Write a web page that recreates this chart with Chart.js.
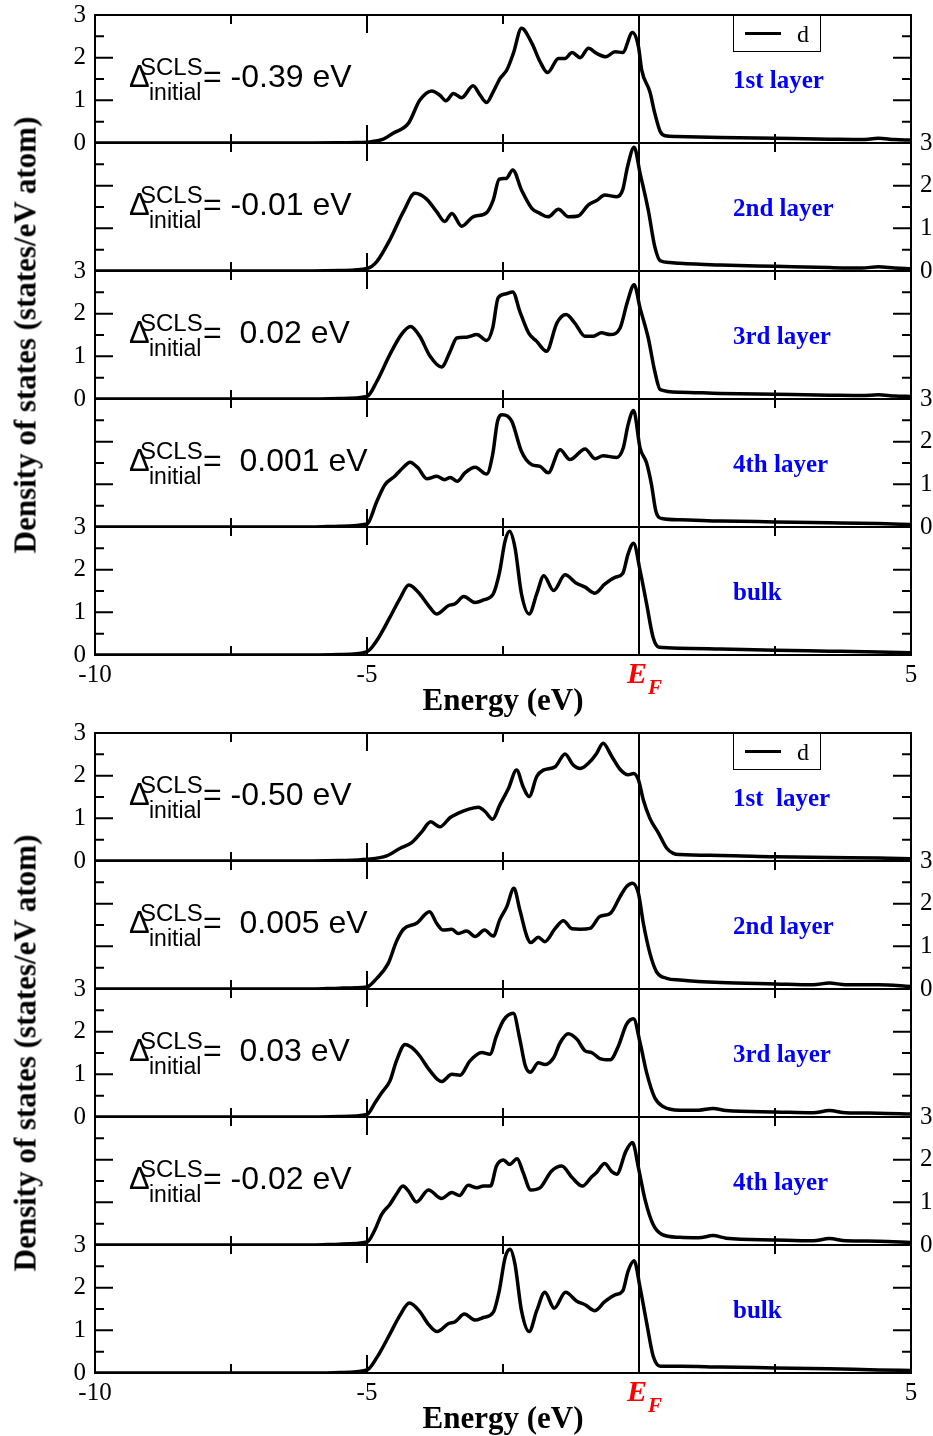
<!DOCTYPE html>
<html><head><meta charset="utf-8">
<script src="https://cdn.jsdelivr.net/npm/chart.js@4.4.1/dist/chart.umd.min.js"></script>
<style>
html,body{margin:0;padding:0;background:#fff;}
#root{position:relative;width:933px;height:1436px;overflow:hidden;background:#fff;}
canvas{position:absolute;left:0;}
.t{position:absolute;white-space:pre;line-height:1;margin:0;}
</style></head><body><div id="root"></div>
<script>
// ---------------- data (energy in eV, DOS in states/eV atom) ----------------
const xTicks = [-10, -7.5, -5, -2.5, 0, 2.5, 5];
const xLabels = {'-10': '-10', '-5': '-5', '5': '5'};
const yTicks = [0, 1, 2, 3];

// top panel
const eT1 = [-10,-7,-6,-5.5,-5.2,-5.0,-4.7,-4.52,-4.24,-4.03,-3.81,-3.66,-3.55,-3.41,-3.26,-3.05,-2.92,-2.80,-2.68,-2.55,-2.43,-2.31,-2.16,-1.97,-1.82,-1.68,-1.48,-1.36,-1.23,-1.08,-0.93,-0.78,-0.61,-0.44,-0.30,-0.12,-0.01,0.05,0.20,0.29,0.39,0.48,0.69,1.5,2.5,3.5,4.1,4.4,4.7,5];
const dT1 = [0,0,0,0.005,0.01,0.02,0.09,0.23,0.46,1.0,1.22,1.12,0.99,1.16,1.06,1.34,1.12,0.95,1.2,1.52,1.71,2.1,2.69,2.34,1.91,1.65,1.98,1.98,2.12,2.0,2.22,2.1,2.02,2.14,2.12,2.59,2.26,1.71,1.2,0.7,0.27,0.17,0.15,0.13,0.11,0.09,0.08,0.11,0.08,0.07];

const eT2 = [-10,-7,-6,-5.5,-5.0,-4.82,-4.58,-4.33,-4.12,-3.90,-3.72,-3.57,-3.44,-3.26,-3.05,-2.80,-2.68,-2.57,-2.44,-2.32,-2.16,-1.97,-1.82,-1.67,-1.48,-1.30,-1.12,-0.93,-0.78,-0.63,-0.41,-0.30,-0.21,-0.09,0.02,0.17,0.29,0.39,0.57,0.75,1.5,2.5,3.5,4.1,4.4,4.7,5];
const dT2 = [0,0,0,0.01,0.06,0.22,0.73,1.39,1.82,1.68,1.39,1.16,1.35,1.05,1.27,1.37,1.66,2.15,2.17,2.37,1.9,1.47,1.35,1.27,1.45,1.27,1.29,1.55,1.65,1.78,1.74,1.9,2.45,2.9,2.29,1.43,0.57,0.24,0.2,0.18,0.14,0.11,0.08,0.07,0.1,0.07,0.05];

const eT3 = [-10,-7,-6,-5.5,-5.0,-4.82,-4.58,-4.37,-4.20,-4.03,-3.84,-3.63,-3.47,-3.35,-3.17,-2.98,-2.80,-2.69,-2.59,-2.46,-2.32,-2.19,-2.03,-1.88,-1.70,-1.51,-1.34,-1.18,-0.99,-0.84,-0.69,-0.53,-0.35,-0.21,-0.09,0.02,0.17,0.29,0.39,0.75,1.5,2.5,3.5,4.1,4.4,4.7,5];
const dT3 = [0,0,0,0.01,0.06,0.41,1.04,1.51,1.70,1.47,1.0,0.75,1.12,1.43,1.45,1.51,1.37,1.66,2.37,2.46,2.51,2.05,1.55,1.35,1.12,1.78,1.98,1.78,1.47,1.47,1.55,1.51,1.66,2.29,2.68,2.13,1.43,0.65,0.22,0.16,0.13,0.11,0.09,0.08,0.1,0.07,0.06];

const eT4 = [-10,-7,-6,-5.5,-5.0,-4.82,-4.67,-4.49,-4.33,-4.21,-4.06,-3.90,-3.72,-3.57,-3.47,-3.34,-3.20,-3.01,-2.80,-2.69,-2.60,-2.51,-2.34,-2.16,-1.97,-1.82,-1.67,-1.45,-1.27,-0.99,-0.81,-0.66,-0.41,-0.29,-0.20,-0.10,0.02,0.14,0.23,0.31,0.42,0.75,1.5,2.5,3.5,4.4,5];
const dT4 = [0,0,0,0.02,0.07,0.6,0.99,1.19,1.4,1.52,1.38,1.13,1.19,1.11,1.16,1.07,1.27,1.4,1.24,1.7,2.48,2.63,2.48,1.77,1.46,1.42,1.27,1.81,1.58,1.83,1.6,1.67,1.63,1.85,2.4,2.73,1.85,1.5,0.99,0.37,0.2,0.17,0.14,0.12,0.1,0.08,0.06];

const eT5 = [-10,-7,-6,-5.5,-5.0,-4.82,-4.58,-4.40,-4.23,-4.03,-3.87,-3.72,-3.50,-3.38,-3.22,-3.01,-2.86,-2.68,-2.57,-2.46,-2.38,-2.28,-2.16,-2.02,-1.88,-1.75,-1.57,-1.36,-1.15,-0.99,-0.81,-0.63,-0.44,-0.30,-0.20,-0.10,0.02,0.14,0.26,0.37,0.75,1.5,2.5,3.5,4.4,5];
const dT5 = [0,0,0,0.01,0.08,0.34,0.88,1.31,1.64,1.43,1.16,0.96,1.16,1.2,1.37,1.23,1.29,1.43,1.9,2.68,2.9,2.52,1.43,0.96,1.43,1.86,1.51,1.88,1.68,1.59,1.45,1.66,1.82,1.91,2.37,2.62,1.98,1.2,0.41,0.18,0.16,0.14,0.11,0.09,0.07,0.05];

// bottom panel
const eB1 = [-10,-7,-6,-5.5,-5.0,-4.64,-4.39,-4.18,-3.99,-3.83,-3.66,-3.47,-3.32,-3.14,-2.95,-2.83,-2.69,-2.56,-2.40,-2.25,-2.13,-2.02,-1.88,-1.76,-1.54,-1.36,-1.21,-1.08,-0.90,-0.78,-0.66,-0.50,-0.35,-0.20,-0.10,-0.01,0.08,0.20,0.36,0.51,0.63,0.75,1.5,2.5,3.5,4.4,5];
const dB1 = [0,0,0,0.01,0.04,0.12,0.3,0.43,0.69,0.92,0.8,1.02,1.12,1.21,1.26,1.16,0.98,1.31,1.7,2.13,1.74,1.51,1.98,2.13,2.21,2.51,2.25,2.17,2.33,2.52,2.76,2.45,2.15,2.02,2.05,1.9,1.43,1.0,0.65,0.3,0.18,0.15,0.13,0.1,0.08,0.07,0.05];

const eB2 = [-10,-7,-6,-5.5,-5.0,-4.82,-4.61,-4.46,-4.33,-4.09,-3.85,-3.72,-3.60,-3.44,-3.32,-3.17,-3.01,-2.84,-2.68,-2.56,-2.43,-2.30,-2.19,-2.06,-1.99,-1.85,-1.73,-1.54,-1.39,-1.23,-1.08,-0.90,-0.72,-0.53,-0.35,-0.23,-0.12,-0.01,0.08,0.20,0.32,0.51,0.75,1.5,2.5,3.2,3.5,3.8,4.4,5];
const dB2 = [0,0,0,0.02,0.05,0.25,0.6,1.11,1.4,1.54,1.81,1.54,1.38,1.4,1.3,1.36,1.23,1.38,1.24,1.62,1.93,2.36,1.85,1.23,1.09,1.21,1.11,1.42,1.6,1.41,1.4,1.42,1.7,1.77,2.16,2.4,2.48,2.24,1.54,0.84,0.41,0.25,0.21,0.15,0.12,0.1,0.14,0.1,0.1,0.06];

const eB3 = [-10,-7,-6,-5.5,-5.0,-4.85,-4.73,-4.58,-4.46,-4.30,-4.18,-4.03,-3.84,-3.63,-3.44,-3.29,-3.11,-2.89,-2.74,-2.62,-2.49,-2.31,-2.19,-2.09,-2.00,-1.85,-1.73,-1.57,-1.45,-1.30,-1.14,-0.99,-0.87,-0.72,-0.53,-0.38,-0.23,-0.10,0.02,0.14,0.29,0.45,0.75,1.1,1.36,1.6,2.5,3.2,3.5,3.8,4.4,5];
const dB3 = [0,0,0,0.01,0.06,0.34,0.57,0.84,1.31,1.7,1.63,1.43,1.08,0.83,1.0,0.98,1.31,1.51,1.47,1.9,2.27,2.43,1.82,1.2,1.05,1.27,1.23,1.39,1.74,1.95,1.82,1.55,1.51,1.37,1.34,1.66,2.17,2.3,1.74,1.04,0.45,0.24,0.16,0.16,0.2,0.15,0.12,0.1,0.15,0.1,0.09,0.07];

const eB4 = [-10,-7,-6,-5.5,-5.0,-4.85,-4.73,-4.58,-4.46,-4.34,-4.24,-4.09,-3.87,-3.63,-3.44,-3.30,-3.14,-2.98,-2.86,-2.73,-2.62,-2.49,-2.38,-2.24,-2.13,-1.99,-1.82,-1.61,-1.42,-1.23,-1.04,-0.87,-0.78,-0.63,-0.50,-0.41,-0.24,-0.12,-0.01,0.11,0.26,0.42,0.75,1.1,1.36,1.6,2.5,3.2,3.5,3.8,4.4,5];
const dB4 = [0,0,0,0.02,0.07,0.37,0.72,0.95,1.19,1.38,1.27,1.01,1.29,1.09,1.23,1.16,1.4,1.34,1.38,1.38,1.85,1.99,1.89,2.02,1.7,1.29,1.34,1.73,1.85,1.58,1.38,1.6,1.7,1.91,1.72,1.66,2.2,2.4,1.81,1.07,0.48,0.25,0.18,0.17,0.22,0.16,0.12,0.1,0.15,0.1,0.09,0.06];

const eB5 = [-10,-7,-6,-5.5,-5.0,-4.82,-4.58,-4.40,-4.22,-4.03,-3.87,-3.71,-3.50,-3.38,-3.21,-3.01,-2.86,-2.68,-2.57,-2.46,-2.37,-2.28,-2.16,-2.02,-1.88,-1.73,-1.56,-1.35,-1.15,-0.99,-0.81,-0.63,-0.44,-0.30,-0.20,-0.09,0.02,0.14,0.26,0.39,0.75,1.5,2.5,3.5,4.4,5];
const dB5 = [0,0,0,0.01,0.07,0.36,0.91,1.34,1.64,1.44,1.14,0.97,1.16,1.2,1.38,1.24,1.3,1.42,1.92,2.71,2.9,2.55,1.46,0.97,1.46,1.89,1.52,1.89,1.69,1.6,1.46,1.67,1.83,1.92,2.39,2.63,2.0,1.18,0.4,0.16,0.16,0.14,0.12,0.1,0.07,0.06];

const layerNamesTop = ['1st layer', '2nd layer', '3rd layer', '4th layer', 'bulk'];
const layerNamesBottom = ['1st  layer', '2nd layer', '3rd layer', '4th layer', 'bulk'];
const sclsTop = ['-0.39 eV', '-0.01 eV', ' 0.02 eV', ' 0.001 eV'];
const sclsBottom = ['-0.50 eV', ' 0.005 eV', ' 0.03 eV', '-0.02 eV'];
const legendLabel = 'd';
const yTitle = 'Density of states (states/eV atom)';
const xTitle = 'Energy (eV)';

// ---------------- layout ----------------
const root = document.getElementById('root');
const SERIF = "'Liberation Serif','Times New Roman',serif";
const SANS = "'Liberation Sans',Arial,sans-serif";
const SUB_H = 128, PAD = 18, XH = 45;
const PLOT_L = 95, PLOT_R = 911;

function addText(txt, x, base, size, fam, extra, center) {
  const d = document.createElement('div');
  d.className = 't';
  d.textContent = txt;
  d.style.fontFamily = fam === 'sans' ? SANS : SERIF;
  d.style.fontSize = size + 'px';
  const k = fam === 'sans' ? 0.8465 : 0.8375;
  d.style.top = (base - k * size) + 'px';
  d.style.left = x + 'px';
  if (center) d.style.transform = 'translateX(-50%)';
  Object.assign(d.style, extra || {});
  root.appendChild(d);
  return d;
}

function noPad(s) { s.paddingTop = 0; s.paddingBottom = 0; s.paddingLeft = 0; s.paddingRight = 0; }

const framePlugin = {
  id: 'frame',
  beforeDatasetsDraw(chart) {
    const {ctx, chartArea: {left, right, top, bottom}, scales: {x, y}} = chart;
    ctx.save();
    ctx.strokeStyle = '#000';
    ctx.lineWidth = 2;
    ctx.beginPath();
    xTicks.forEach(v => {
      const px = x.getPixelForValue(v);
      const L = (v % 5 === 0) ? 18 : 9;
      ctx.moveTo(px, top); ctx.lineTo(px, top + L);
      ctx.moveTo(px, bottom); ctx.lineTo(px, bottom - L);
    });
    for (let v = 0; v <= 3; v += 0.5) {
      const py = y.getPixelForValue(v);
      const L = Number.isInteger(v) ? 18 : 9;
      ctx.moveTo(left, py); ctx.lineTo(left + L, py);
      ctx.moveTo(right, py); ctx.lineTo(right - L, py);
    }
    ctx.stroke();
    // Fermi level line
    const ef = x.getPixelForValue(0);
    ctx.beginPath(); ctx.moveTo(ef, top); ctx.lineTo(ef, bottom); ctx.stroke();
    ctx.strokeRect(left, top, right - left, bottom - top);
    ctx.restore();
  }
};

function makeSub(panelTop, k, E, D, labelSide, isBottom) {
  const cv = document.createElement('canvas');
  const h = PAD + SUB_H + (isBottom ? XH : PAD);
  cv.width = 933; cv.height = h;
  cv.style.width = '933px'; cv.style.height = h + 'px';
  cv.style.top = (panelTop + SUB_H * k - PAD) + 'px';
  root.appendChild(cv);
  const tickFont = {family: SERIF, size: 25};
  new Chart(cv, {
    type: 'line',
    data: {datasets: [{
      data: E.map((e, i) => ({x: e, y: D[i]})),
      borderColor: '#000', borderWidth: 3.5, pointRadius: 0, fill: false,
      cubicInterpolationMode: 'monotone', yAxisID: 'y'
    }]},
    options: {
      responsive: false, animation: false, devicePixelRatio: 1,
      layout: {padding: {top: PAD, bottom: isBottom ? 0 : PAD, left: 0, right: 0}},
      plugins: {legend: {display: false}, tooltip: {enabled: false}},
      events: [],
      scales: {
        x: {type: 'linear', min: -10, max: 5, display: isBottom,
            afterBuildTicks: s => { s.ticks = xTicks.map(v => ({value: v})); },
            ticks: {autoSkip: false, maxRotation: 0, minRotation: 0, padding: 5, color: '#000', font: tickFont,
                    callback: v => xLabels[String(v)] || ''},
            grid: {display: false, drawTicks: false}, border: {display: false},
            afterFit: s => { s.height = isBottom ? XH : 0; noPad(s); }},
        y: {type: 'linear', position: 'left', min: 0, max: 3,
            afterBuildTicks: s => { s.ticks = yTicks.map(v => ({value: v})); },
            ticks: {padding: 9, color: '#000', font: tickFont, autoSkip: false,
                    callback: v => labelSide === 'left' ? String(v) : ''},
            grid: {display: false, drawTicks: false}, border: {display: false},
            afterFit: s => { s.width = PLOT_L; noPad(s); }},
        y2: {type: 'linear', position: 'right', min: 0, max: 3,
            afterBuildTicks: s => { s.ticks = yTicks.map(v => ({value: v})); },
            ticks: {padding: 9, color: '#000', font: tickFont, autoSkip: false,
                    callback: v => labelSide === 'right' ? String(v) : ''},
            grid: {display: false, drawTicks: false}, border: {display: false},
            afterFit: s => { s.width = 933 - PLOT_R; noPad(s); }}
      }
    },
    plugins: [framePlugin]
  });
}

function annotation(subTop, value) {
  const B = subTop + 72;
  addText('\u0394', 129, B, 31, 'sans');
  addText('SCLS', 140, B - 12, 24, 'sans');
  addText('initial', 149, B + 13, 23, 'sans');
  addText('= ' + value, 203, B, 32, 'sans');
}

function panel(top, E, D, names, scls) {
  for (let k = 0; k < 5; k++) {
    makeSub(top, k, E[k], D[k], (k % 2 === 0) ? 'left' : 'right', k === 4);
    const subTop = top + SUB_H * k;
    addText(names[k], 733, subTop + 73, 25, 'serif', {fontWeight: 'bold', color: '#0000ff'});
    if (k < 4) annotation(subTop, scls[k]);
  }
  // legend
  const box = document.createElement('div');
  Object.assign(box.style, {position: 'absolute', left: '733px', top: top + 'px', width: '88px', height: '37px',
    border: '1px solid #000', boxSizing: 'border-box', background: '#fff'});
  root.appendChild(box);
  const ln = document.createElement('div');
  Object.assign(ln.style, {position: 'absolute', left: '745px', top: (top + 17) + 'px', width: '36px', height: '3px', background: '#000'});
  root.appendChild(ln);
  addText(legendLabel, 797, top + 27, 24, 'serif');
  // axis titles
  const bottom = top + SUB_H * 5;
  addText(xTitle, 503, bottom + 55, 31, 'serif', {fontWeight: 'bold'}, true);
  addText('E', 627, bottom + 28, 30, 'serif', {fontWeight: 'bold', fontStyle: 'italic', color: '#ff0000'});
  addText('F', 648, bottom + 40, 21, 'serif', {fontWeight: 'bold', fontStyle: 'italic', color: '#ff0000'});
  const yt = document.createElement('div');
  yt.className = 't';
  yt.textContent = yTitle;
  Object.assign(yt.style, {fontFamily: SERIF, fontSize: '31px', fontWeight: 'bold', left: '25px',
    top: ((top + bottom) / 2) + 'px', transform: 'translate(-50%,-50%) rotate(-90deg)'});
  root.appendChild(yt);
}

panel(15, [eT1, eT2, eT3, eT4, eT5], [dT1, dT2, dT3, dT4, dT5], layerNamesTop, sclsTop);
panel(733, [eB1, eB2, eB3, eB4, eB5], [dB1, dB2, dB3, dB4, dB5], layerNamesBottom, sclsBottom);
</script></body></html>
